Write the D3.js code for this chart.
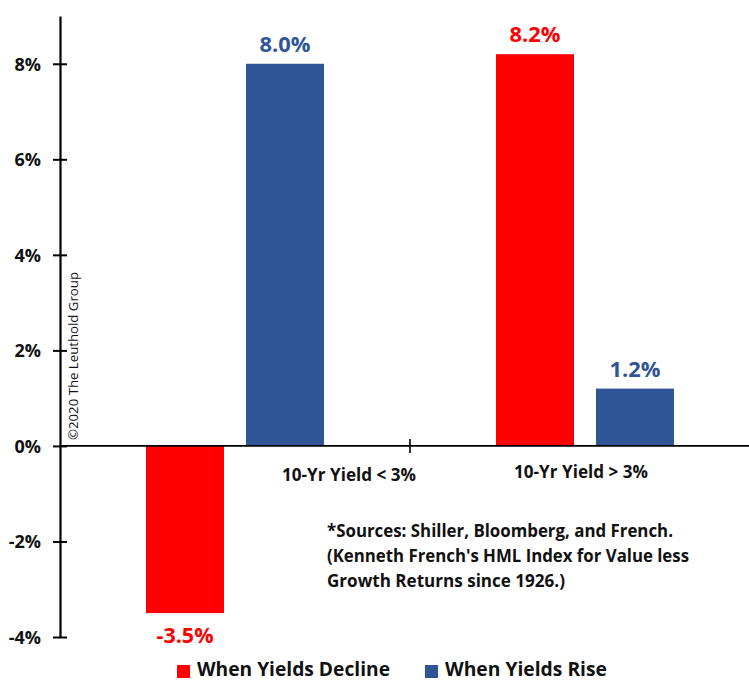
<!DOCTYPE html>
<html><head><meta charset="utf-8">
<script src="https://cdn.jsdelivr.net/npm/d3@7"></script>
<style>body{margin:0;background:#fff}svg{display:block}text{font-family:"Open Sans",sans-serif}</style>
</head><body><svg id="c" width="749" height="681"></svg>
<script>
const categories = ["10-Yr Yield < 3%", "10-Yr Yield > 3%"];
const seriesNames = ["When Yields Decline", "When Yields Rise"];
const declineValues = [-3.5, 8.2];
const riseValues = [8.0, 1.2];
const tickValues = [-4, -2, 0, 2, 4, 6, 8];
const sourceLines = ["*Sources: Shiller, Bloomberg, and French.", "(Kenneth French's HML Index for Value less", "Growth Returns since 1926.)"];
const copyright = "©2020 The Leuthold Group";
const colors = ["#FF0000", "#2F5597"];

const svg = d3.select("#c");
const y = d3.scaleLinear().domain([-4, 9]).range([637, 16]);
const x = d3.scaleBand().domain(categories).range([60, 760]).paddingInner(0).paddingOuter(0);
const inner = d3.scaleBand().domain(seriesNames).range([86, 350 - 86]).paddingInner(0.22);
const series = [declineValues, riseValues];

function fit(sel, len) { sel.attr("textLength", len).attr("lengthAdjust", "spacingAndGlyphs"); }

// bars
seriesNames.forEach((s, si) => {
  const g = svg.append("g");
  g.selectAll("rect").data(categories).join("rect")
    .attr("x", c => x(c) + inner(s))
    .attr("width", inner.bandwidth())
    .attr("y", (c, i) => y(Math.max(0, series[si][i])))
    .attr("height", (c, i) => Math.abs(y(series[si][i]) - y(0)))
    .attr("fill", colors[si]);
  g.selectAll("text").data(categories).join("text")
    .attr("x", c => x(c) + inner(s) + inner.bandwidth() / 2)
    .attr("y", (c, i) => series[si][i] >= 0 ? y(series[si][i]) - 12 : y(series[si][i]) + 30)
    .attr("text-anchor", "middle")
    .attr("font-size", 20.5).attr("font-weight", "bold")
    .attr("fill", colors[si])
    .text((c, i) => series[si][i].toFixed(1) + "%")
    .each(function(c, i) { fit(d3.select(this), series[si][i] < 0 ? 57 : 51); });
});

// y axis
const yAxis = d3.axisLeft(y).tickValues(tickValues).tickFormat(d => d + "%").tickSizeInner(7).tickSizeOuter(0);
const ya = svg.append("g").attr("transform", "translate(60,0)").call(yAxis);
ya.select(".domain").attr("stroke", "#000").attr("stroke-width", 2.2);
ya.selectAll(".tick line").attr("stroke", "#000").attr("stroke-width", 2).attr("x1", 7).attr("x2", -7);
ya.selectAll(".tick text").attr("x", -19).attr("dy", "0.36em").attr("font-size", 18).attr("font-weight", "bold").attr("fill", "#111").attr("font-family", "'Open Sans', sans-serif");

// x axis at zero
svg.append("line").attr("x1", 60).attr("x2", 749).attr("y1", y(0)).attr("y2", y(0)).attr("stroke", "#000").attr("stroke-width", 1.6);
svg.append("line").attr("x1", x(categories[1])).attr("x2", x(categories[1])).attr("y1", y(0) - 7).attr("y2", y(0) + 7).attr("stroke", "#000").attr("stroke-width", 1.6);

// category labels
svg.selectAll("text.cat").data(categories).join("text").attr("class", "cat")
  .attr("x", (c, i) => i === 0 ? x(c) + inner(seriesNames[1]) + inner.bandwidth() / 2 + 64 : x(c) + x.bandwidth() / 2 - 4)
  .attr("y", (c, i) => i === 0 ? y(0) + 35 : y(0) + 32)
  .attr("text-anchor", "middle").attr("font-size", 17).attr("font-weight", "bold").attr("fill", "#111")
  .text(c => c)
  .each(function() { fit(d3.select(this), 134); });

// sources
const srcLens = [346, 362, 238];
svg.selectAll("text.src").data(sourceLines).join("text").attr("class", "src")
  .attr("x", 327).attr("y", (d, i) => 537 + i * 25)
  .attr("font-size", 17).attr("font-weight", "bold").attr("fill", "#111")
  .text(d => d)
  .each(function(d, i) { fit(d3.select(this), srcLens[i]); });

// copyright
svg.append("text").attr("transform", `translate(78,440) rotate(-90)`).attr("font-size", 13).attr("fill", "#111").text(copyright)
  .call(fit, 168);

// legend
const legendX = [177, 425];
const legendLens = [193, 162];
seriesNames.forEach((s, i) => {
  svg.append("rect").attr("x", legendX[i]).attr("y", 665).attr("width", 13).attr("height", 13).attr("fill", colors[i]);
  svg.append("text").attr("x", legendX[i] + 20).attr("y", 676).attr("font-size", 19).attr("font-weight", "bold").attr("fill", "#111").text(s)
    .call(fit, legendLens[i]);
});
</script></body></html>
